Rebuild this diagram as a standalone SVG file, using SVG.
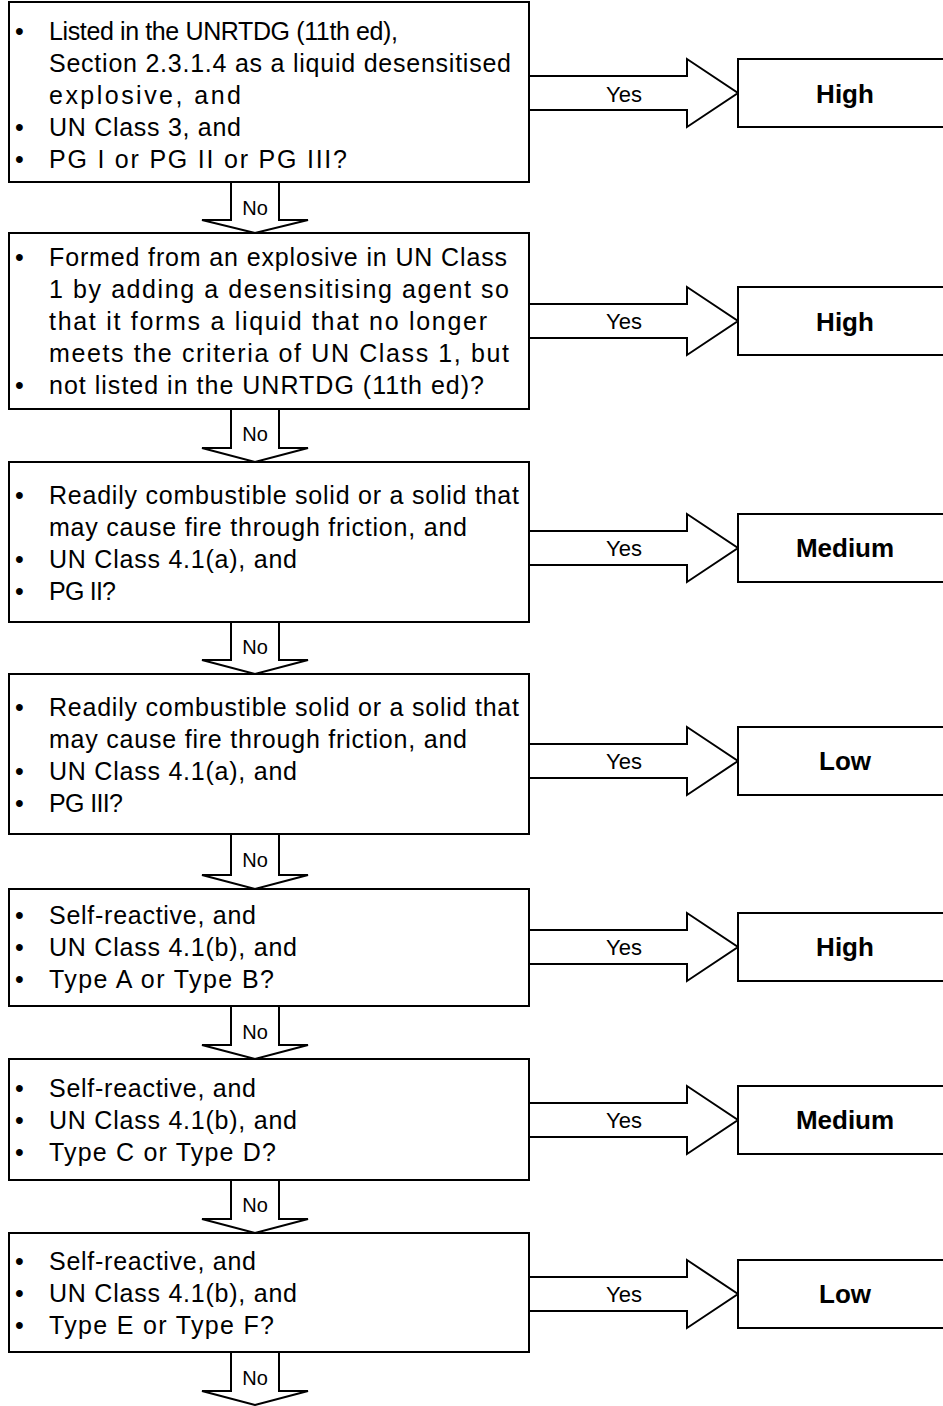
<svg xmlns="http://www.w3.org/2000/svg" width="943" height="1406" viewBox="0 0 943 1406">
  <style>
    .box { fill: #fff; stroke: #000; stroke-width: 2; }
    .arrow { fill: #fff; stroke: #000; stroke-width: 2; stroke-linejoin: miter; }
    .q { font-family: "Liberation Sans", Arial, sans-serif; font-size: 25px; fill: #000; }
    .yes { font-family: "Liberation Sans", Arial, sans-serif; font-size: 22px; fill: #000; text-anchor: middle; }
    .no { font-family: "Liberation Sans", Arial, sans-serif; font-size: 20px; fill: #000; text-anchor: middle; }
    .res { font-family: "Liberation Sans", Arial, sans-serif; font-size: 26px; font-weight: bold; fill: #000; text-anchor: middle; }
  </style>
  <rect width="943" height="1406" fill="#fff"/>

  <!-- connectors: Yes arrows to the right, No arrows downward -->
  <g id="connectors">
    <!-- Yes arrows -->
    <polygon class="arrow" points="529,76 687,76 687,59 738,93 687,127 687,110 529,110"/>
    <text class="yes" x="624" y="102">Yes</text>
    <polygon class="arrow" points="529,304 687,304 687,287 738,321 687,355 687,338 529,338"/>
    <text class="yes" x="624" y="329">Yes</text>
    <polygon class="arrow" points="529,531 687,531 687,514 738,548 687,582 687,565 529,565"/>
    <text class="yes" x="624" y="556">Yes</text>
    <polygon class="arrow" points="529,744 687,744 687,727 738,761 687,795 687,778 529,778"/>
    <text class="yes" x="624" y="769">Yes</text>
    <polygon class="arrow" points="529,930 687,930 687,913 738,947 687,981 687,964 529,964"/>
    <text class="yes" x="624" y="955">Yes</text>
    <polygon class="arrow" points="529,1103 687,1103 687,1086 738,1120 687,1154 687,1137 529,1137"/>
    <text class="yes" x="624" y="1128">Yes</text>
    <polygon class="arrow" points="529,1277 687,1277 687,1260 738,1294 687,1328 687,1311 529,1311"/>
    <text class="yes" x="624" y="1302">Yes</text>

    <!-- No arrows -->
    <polygon class="arrow" points="231,182 279,182 279,220 308,220 255,233 202,220 231,220"/>
    <text class="no" x="255" y="215">No</text>
    <polygon class="arrow" points="231,409 279,409 279,448 308,448 255,462 202,448 231,448"/>
    <text class="no" x="255" y="441">No</text>
    <polygon class="arrow" points="231,622 279,622 279,660 308,660 255,674 202,660 231,660"/>
    <text class="no" x="255" y="654">No</text>
    <polygon class="arrow" points="231,834 279,834 279,875 308,875 255,889 202,875 231,875"/>
    <text class="no" x="255" y="867">No</text>
    <polygon class="arrow" points="231,1006 279,1006 279,1045 308,1045 255,1059 202,1045 231,1045"/>
    <text class="no" x="255" y="1039">No</text>
    <polygon class="arrow" points="231,1180 279,1180 279,1219 308,1219 255,1233 202,1219 231,1219"/>
    <text class="no" x="255" y="1212">No</text>
    <polygon class="arrow" points="231,1352 279,1352 279,1391 308,1391 255,1405 202,1391 231,1391"/>
    <text class="no" x="255" y="1385">No</text>
  </g>

  <!-- question boxes -->
  <g id="q1">
    <rect class="box" x="9" y="2" width="520" height="180"/>
    <g class="q">
      <text x="15" y="40">•</text><text x="49" y="40" textLength="349">Listed in the UNRTDG (11th ed),</text>
      <text x="49" y="72" textLength="462">Section 2.3.1.4 as a liquid desensitised</text>
      <text x="49" y="104" textLength="192">explosive, and</text>
      <text x="15" y="136">•</text><text x="49" y="136" textLength="192">UN Class 3, and</text>
      <text x="15" y="168">•</text><text x="49" y="168" textLength="298">PG I or PG II or PG III?</text>
    </g>
  </g>
  <g id="q2">
    <rect class="box" x="9" y="233" width="520" height="176"/>
    <g class="q">
      <text x="15" y="266">•</text><text x="49" y="266" textLength="458">Formed from an explosive in UN Class</text>
      <text x="49" y="298" textLength="460">1 by adding a desensitising agent so</text>
      <text x="49" y="330" textLength="438">that it forms a liquid that no longer</text>
      <text x="49" y="362" textLength="460">meets the criteria of UN Class 1, but</text>
      <text x="15" y="394">•</text><text x="49" y="394" textLength="435">not listed in the UNRTDG (11th ed)?</text>
    </g>
  </g>
  <g id="q3">
    <rect class="box" x="9" y="462" width="520" height="160"/>
    <g class="q">
      <text x="15" y="504">•</text><text x="49" y="504" textLength="470">Readily combustible solid or a solid that</text>
      <text x="49" y="536" textLength="418">may cause fire through friction, and</text>
      <text x="15" y="568">•</text><text x="49" y="568" textLength="248">UN Class 4.1(a), and</text>
      <text x="15" y="600">•</text><text x="49" y="600" textLength="67">PG II?</text>
    </g>
  </g>
  <g id="q4">
    <rect class="box" x="9" y="674" width="520" height="160"/>
    <g class="q">
      <text x="15" y="716">•</text><text x="49" y="716" textLength="470">Readily combustible solid or a solid that</text>
      <text x="49" y="748" textLength="418">may cause fire through friction, and</text>
      <text x="15" y="780">•</text><text x="49" y="780" textLength="248">UN Class 4.1(a), and</text>
      <text x="15" y="812">•</text><text x="49" y="812" textLength="74">PG III?</text>
    </g>
  </g>
  <g id="q5">
    <rect class="box" x="9" y="889" width="520" height="117"/>
    <g class="q">
      <text x="15" y="924">•</text><text x="49" y="924" textLength="207">Self-reactive, and</text>
      <text x="15" y="956">•</text><text x="49" y="956" textLength="248">UN Class 4.1(b), and</text>
      <text x="15" y="988">•</text><text x="49" y="988" textLength="225">Type A or Type B?</text>
    </g>
  </g>
  <g id="q6">
    <rect class="box" x="9" y="1059" width="520" height="121"/>
    <g class="q">
      <text x="15" y="1097">•</text><text x="49" y="1097" textLength="207">Self-reactive, and</text>
      <text x="15" y="1129">•</text><text x="49" y="1129" textLength="248">UN Class 4.1(b), and</text>
      <text x="15" y="1161">•</text><text x="49" y="1161" textLength="227">Type C or Type D?</text>
    </g>
  </g>
  <g id="q7">
    <rect class="box" x="9" y="1233" width="520" height="119"/>
    <g class="q">
      <text x="15" y="1270">•</text><text x="49" y="1270" textLength="207">Self-reactive, and</text>
      <text x="15" y="1302">•</text><text x="49" y="1302" textLength="248">UN Class 4.1(b), and</text>
      <text x="15" y="1334">•</text><text x="49" y="1334" textLength="225">Type E or Type F?</text>
    </g>
  </g>

  <!-- outcome boxes -->
  <g id="r1"><rect class="box" x="738" y="59" width="220" height="68"/><text class="res" x="845" y="103">High</text></g>
  <g id="r2"><rect class="box" x="738" y="287" width="220" height="68"/><text class="res" x="845" y="331">High</text></g>
  <g id="r3"><rect class="box" x="738" y="514" width="220" height="68"/><text class="res" x="845" y="557">Medium</text></g>
  <g id="r4"><rect class="box" x="738" y="727" width="220" height="68"/><text class="res" x="845" y="770">Low</text></g>
  <g id="r5"><rect class="box" x="738" y="913" width="220" height="68"/><text class="res" x="845" y="956">High</text></g>
  <g id="r6"><rect class="box" x="738" y="1086" width="220" height="68"/><text class="res" x="845" y="1129">Medium</text></g>
  <g id="r7"><rect class="box" x="738" y="1260" width="220" height="68"/><text class="res" x="845" y="1303">Low</text></g>
</svg>
